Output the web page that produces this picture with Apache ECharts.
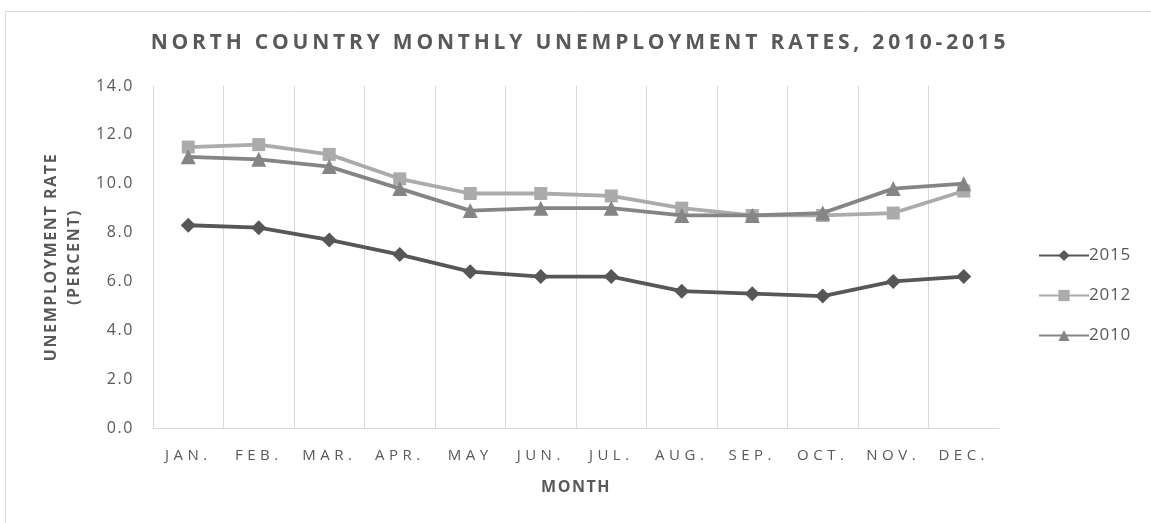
<!DOCTYPE html>
<html>
<head>
<meta charset="utf-8">
<script src="https://cdn.jsdelivr.net/npm/echarts@6/dist/echarts.min.js"></script>
<style>html,body{margin:0;padding:0;background:#fff}#c{width:1151px;height:523px}</style>
</head>
<body>
<div id="c"></div>
<script>
const months = ['JAN.', 'FEB.', 'MAR.', 'APR.', 'MAY', 'JUN.', 'JUL.', 'AUG.', 'SEP.', 'OCT.', 'NOV.', 'DEC.'];
const rate2015 = [8.3, 8.2, 7.7, 7.1, 6.4, 6.2, 6.2, 5.6, 5.5, 5.4, 6.0, 6.2];
const rate2012 = [11.5, 11.6, 11.2, 10.2, 9.6, 9.6, 9.5, 9.0, 8.7, 8.7, 8.8, 9.7];
const rate2010 = [11.1, 11.0, 10.7, 9.8, 8.9, 9.0, 9.0, 8.7, 8.7, 8.8, 9.8, 10.0];
const yTicks = [0, 2, 4, 6, 8, 10, 12, 14];
const seriesNames = ['2015', '2012', '2010'];
const titleText = 'NORTH COUNTRY MONTHLY UNEMPLOYMENT RATES, 2010-2015';
const yName = ['UNEMPLOYMENT RATE', '(PERCENT)'];

// letter spacing (Excel-style tracked text) applied at canvas draw time
const spacing = new Map();
spacing.set(titleText, 3.8);
months.forEach(m => spacing.set(m, 4.5));
yName.forEach(t => spacing.set(t, 1.6));
spacing.set('MONTH', 1.5);
seriesNames.forEach(t => spacing.set(t, 0.8));
const origFill = CanvasRenderingContext2D.prototype.fillText;
CanvasRenderingContext2D.prototype.fillText = function (t) {
  const s = spacing.get(t);
  if (s && 'letterSpacing' in this) {
    const prev = this.letterSpacing;
    this.letterSpacing = s + 'px';
    const r = origFill.apply(this, arguments);
    this.letterSpacing = prev;
    return r;
  }
  return origFill.apply(this, arguments);
};

const chart = echarts.init(document.getElementById('c'), null, {renderer: 'canvas'});
const txt = '#595959';
chart.setOption({
  animation: false,
  backgroundColor: '#fff',
  graphic: [{
    type: 'rect', shape: {x: 5.5, y: 11.5, width: 1150, height: 520},
    style: {fill: 'none', stroke: '#d9d9d9', lineWidth: 1}, silent: true
  }],
  title: {
    text: titleText,
    left: 575, top: 28, textAlign: 'center',
    textStyle: {fontFamily: 'Open Sans', fontWeight: 'bold', fontSize: 21, color: txt}
  },
  legend: {
    orient: 'vertical', left: 1033, top: 242, itemGap: 23, itemWidth: 50, itemHeight: 14,
    textStyle: {fontFamily: 'Open Sans', fontSize: 17, color: txt, padding: [0, 0, 0, -5]},
    data: seriesNames
  },
  grid: {left: 153, right: 152, top: 86, bottom: 95, containLabel: false},
  xAxis: {
    type: 'category', data: months, boundaryGap: true,
    name: 'MONTH', nameLocation: 'middle', nameGap: 51,
    nameTextStyle: {fontFamily: 'Open Sans', fontWeight: 'bold', fontSize: 16, color: txt},
    axisLine: {show: true, lineStyle: {color: '#d9d9d9', width: 1}},
    axisTick: {show: false},
    axisLabel: {fontFamily: 'Open Sans', fontSize: 15, color: txt, margin: 20},
    splitLine: {show: true, showMaxLine: false, lineStyle: {color: '#d9d9d9', width: 1}}
  },
  yAxis: {
    type: 'value', min: yTicks[0], max: yTicks[yTicks.length - 1], interval: 2,
    name: yName.join('\n'), nameLocation: 'middle', nameGap: 67, nameRotate: 90,
    nameTextStyle: {fontFamily: 'Open Sans', fontWeight: 'bold', fontSize: 16, color: txt, lineHeight: 23},
    axisLine: {show: true, lineStyle: {color: '#d9d9d9', width: 1}},
    axisTick: {show: false},
    axisLabel: {fontFamily: 'Open Sans', fontSize: 16, color: txt, margin: 19, formatter: v => v.toFixed(1)},
    splitLine: {show: false}
  },
  series: [
    {name: '2015', type: 'line', data: rate2015, symbol: 'diamond', symbolSize: 15,
     lineStyle: {color: '#575757', width: 3.8}, itemStyle: {color: '#575757'}, z: 3},
    {name: '2012', type: 'line', data: rate2012, symbol: 'rect', symbolSize: 13,
     lineStyle: {color: '#ababab', width: 3.8}, itemStyle: {color: '#ababab'}, z: 2},
    {name: '2010', type: 'line', data: rate2010, symbol: 'triangle', symbolSize: 15,
     lineStyle: {color: '#858585', width: 3.8}, itemStyle: {color: '#858585'}, z: 4}
  ]
});
</script>
</body>
</html>
